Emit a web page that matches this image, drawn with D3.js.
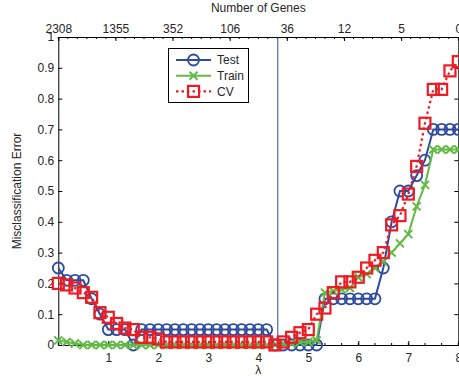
<!DOCTYPE html>
<html>
<head>
<meta charset="utf-8">
<script src="https://cdn.jsdelivr.net/npm/d3@7"></script>
<style>
  body { margin: 0; background: #fff; }
  svg text { font-family: "Liberation Sans", Arial, sans-serif; font-size: 12px; fill: #262626; }
</style>
</head>
<body>
<svg id="canvas" width="459" height="376"></svg>
<script>
// lambda grid the errors were measured on
const lambda = [0, 0.167, 0.333, 0.5, 0.667, 0.833, 1, 1.167, 1.333, 1.5, 1.667, 1.833,
  2, 2.167, 2.333, 2.5, 2.667, 2.833, 3, 3.167, 3.333, 3.5, 3.667, 3.833,
  4, 4.167, 4.333, 4.5, 4.667, 4.833, 5, 5.167, 5.333, 5.5, 5.667, 5.833,
  6, 6.167, 6.333, 6.5, 6.667, 6.833, 7, 7.167, 7.333, 7.5, 7.667, 7.833, 8];

const testErr = [0.25, 0.21, 0.21, 0.21, 0.15, 0.10, 0.05, 0.05, 0.05, 0,
  0.05, 0.05, 0.05, 0.05, 0.05, 0.05, 0.05, 0.05, 0.05, 0.05, 0.05, 0.05, 0.05, 0.05, 0.05, 0.05,
  0, 0, 0, 0, 0, 0,
  0.15, 0.15, 0.15, 0.15, 0.15, 0.15, 0.15,
  0.25, 0.40, 0.50, 0.50, 0.55, 0.60, 0.70, 0.70, 0.70, 0.70];

const trainErr = [0.015, 0.01, 0.005, 0, 0, 0, 0, 0, 0, 0, 0, 0, 0, 0, 0, 0, 0, 0, 0, 0,
  0, 0, 0, 0, 0, 0, 0, 0.005, 0.005, 0.01, 0.01, 0.015,
  0.17, 0.175, 0.18, 0.185, 0.22, 0.23, 0.25, 0.27, 0.30, 0.33, 0.36, 0.45, 0.52,
  0.635, 0.635, 0.635, 0.635];

const cvErr = [0.20, 0.195, 0.185, 0.17, 0.155, 0.105, 0.09, 0.07, 0.055, 0.05, 0.025, 0.025, 0.02,
  0.01, 0.01, 0.01, 0.01, 0.01, 0.01, 0.01, 0.01, 0.01, 0.01, 0.01, 0.01, 0.01,
  0, 0.01, 0.025, 0.04, 0.05, 0.10, 0.12, 0.17, 0.205, 0.205, 0.22, 0.25, 0.275, 0.30,
  0.39, 0.42, 0.49, 0.58, 0.72, 0.83, 0.83, 0.89, 0.92];

const yTicks = [0, 0.1, 0.2, 0.3, 0.4, 0.5, 0.6, 0.7, 0.8, 0.9, 1];
const xTicks = [1, 2, 3, 4, 5, 6, 7, 8];
const geneLabels = ['2308', '1355', '352', '106', '36', '12', '5', '0'];
const seriesNames = ['Test', 'Train', 'CV'];
const cutoffLambda = 4.39;

const settings = {
  left: 58.3, top: 37, right: 458.3, bottom: 345,
  blue: '#2d4b9e', green: '#63b946', red: '#ec1c24',
};

function marker(sel, kind, color) {
  if (kind === 'circle') {
    sel.append('circle').attr('r', 5.5)
      .attr('fill', 'none').attr('stroke', color).attr('stroke-width', 1.8);
  } else if (kind === 'cross') {
    sel.append('path').attr('d', 'M-4,-4L4,4M-4,4L4,-4')
      .attr('fill', 'none').attr('stroke', color).attr('stroke-width', 2);
  } else {
    sel.append('rect').attr('x', -5.5).attr('y', -5.5).attr('width', 11).attr('height', 11)
      .attr('fill', 'none').attr('stroke', color).attr('stroke-width', 2.2);
  }
}

function graph() {
  const svg = d3.select('#canvas');

  const x = d3.scaleLinear().domain([0, 8]).range([settings.left, settings.right]);
  const y = d3.scaleLinear().domain([0, 1]).range([settings.bottom, settings.top]);
  // top axis is just evenly spaced gene counts across the same width
  const xg = d3.scaleLinear().domain([0, geneLabels.length - 1]).range([settings.left, settings.right]);

  const axes = svg.append('g').attr('class', 'axes');

  axes.append('g')
    .attr('transform', `translate(0,${settings.bottom})`)
    .call(d3.axisBottom(x).tickValues(xTicks).tickFormat(d => d)
      .tickSizeInner(-4).tickSizeOuter(0).tickPadding(8));

  axes.append('g')
    .attr('transform', `translate(${settings.left},0)`)
    .call(d3.axisLeft(y).tickValues(yTicks).tickFormat(d => d)
      .tickSizeInner(-4).tickSizeOuter(0).tickPadding(4));

  axes.append('g')
    .attr('transform', `translate(0,${settings.top})`)
    .call(d3.axisTop(xg).tickValues(d3.range(geneLabels.length)).tickFormat(i => geneLabels[i])
      .tickSizeInner(-4).tickSizeOuter(0).tickPadding(4));

  axes.append('g')
    .attr('transform', `translate(${settings.right},0)`)
    .call(d3.axisRight(y).tickValues(yTicks).tickFormat('')
      .tickSizeInner(-4).tickSizeOuter(0));

  // minor ticks
  const minorTop = d3.range(0, geneLabels.length - 1 + 1e-6, 1 / 6);
  axes.append('g').selectAll('line').data(minorTop).join('line')
    .attr('x1', d => xg(d)).attr('x2', d => xg(d))
    .attr('y1', settings.top).attr('y2', settings.top + 2)
    .attr('stroke', '#000');
  const minorBottom = d3.range(0, 8 + 1e-6, 1 / 3);
  axes.append('g').selectAll('line').data(minorBottom).join('line')
    .attr('x1', d => x(d)).attr('x2', d => x(d))
    .attr('y1', settings.bottom).attr('y2', settings.bottom - 2)
    .attr('stroke', '#000');

  axes.selectAll('.domain').attr('stroke', '#000');
  axes.selectAll('.tick line').attr('stroke', '#000');
  axes.selectAll('text').attr('font-family', null).attr('font-size', null).attr('fill', null);

  svg.append('text')
    .attr('x', (settings.left + settings.right) / 2).attr('y', 12)
    .attr('text-anchor', 'middle').text('Number of Genes');
  svg.append('text')
    .attr('x', (settings.left + settings.right) / 2).attr('y', 374)
    .attr('text-anchor', 'middle').text('λ');
  svg.append('text')
    .attr('transform', `translate(21,${(settings.top + settings.bottom) / 2}) rotate(-90)`)
    .attr('text-anchor', 'middle').text('Misclassification Error');

  // chosen lambda
  svg.append('line')
    .attr('x1', x(cutoffLambda)).attr('x2', x(cutoffLambda))
    .attr('y1', settings.top).attr('y2', settings.bottom)
    .attr('stroke', settings.blue).attr('stroke-width', 1);

  const series = [
    { name: seriesNames[0], values: testErr, color: settings.blue, kind: 'circle', dash: null, width: 2 },
    { name: seriesNames[1], values: trainErr, color: settings.green, kind: 'cross', dash: null, width: 2 },
    { name: seriesNames[2], values: cvErr, color: settings.red, kind: 'square', dash: '2.5,3', width: 2.2 },
  ];

  const line = d3.line().x((d, i) => x(lambda[i])).y(d => y(d));

  series.forEach(s => {
    const g = svg.append('g').attr('class', s.name);
    g.append('path')
      .attr('d', line(s.values))
      .attr('fill', 'none')
      .attr('stroke', s.color)
      .attr('stroke-width', s.width)
      .attr('stroke-dasharray', s.dash);
    g.selectAll('g.pt')
      .data(s.values)
      .join('g')
      .attr('class', 'pt')
      .attr('transform', (d, i) => `translate(${x(lambda[i])},${y(d)})`)
      .each(function() { marker(d3.select(this), s.kind, s.color); });
  });

  // legend
  const lg = svg.append('g').attr('class', 'legend');
  lg.append('rect')
    .attr('x', 168.5).attr('y', 48.5).attr('width', 80).attr('height', 54)
    .attr('fill', '#fff').attr('stroke', '#000').attr('stroke-width', 1);
  series.forEach((s, i) => {
    const ly = 60 + i * 15.7;
    lg.append('line')
      .attr('x1', 176).attr('x2', 211).attr('y1', ly).attr('y2', ly)
      .attr('stroke', s.color).attr('stroke-width', s.width)
      .attr('stroke-dasharray', s.dash);
    lg.append('g').attr('transform', `translate(193.5,${ly})`)
      .call(g => marker(g, s.kind, s.color));
    lg.append('text').attr('x', 217).attr('y', ly).attr('dy', '0.35em').text(s.name);
  });
}

window.addEventListener('DOMContentLoaded', () => {
  graph();
});
</script>
</body>
</html>
